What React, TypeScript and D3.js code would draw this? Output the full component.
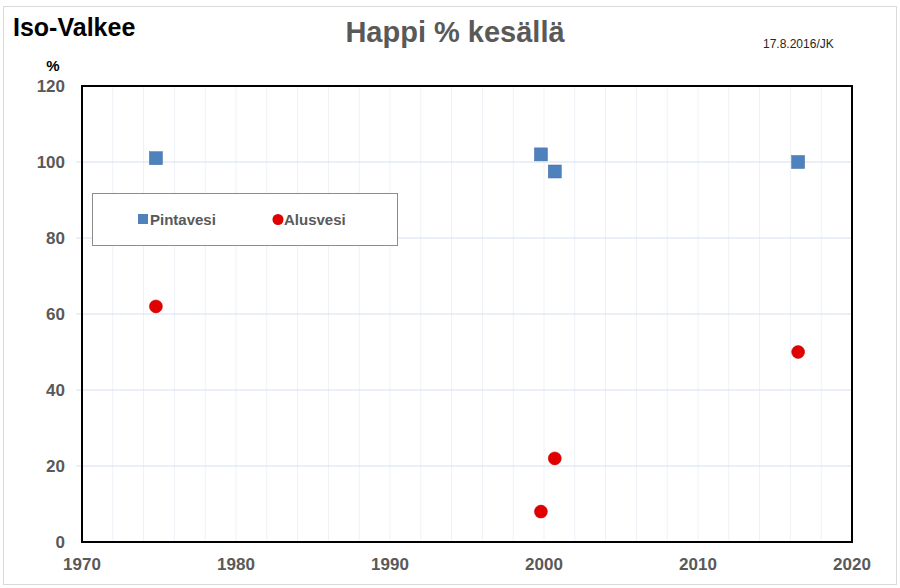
import React from "react";
import * as d3 from "d3";

const pintaYears = [1974.8, 1999.8, 2000.7, 2016.5];
const pintaValues = [101, 102, 97.5, 100];
const alusYears = [1974.8, 1999.8, 2000.7, 2016.5];
const alusValues = [62, 8, 22, 50];
const xTicks = [1970, 1980, 1990, 2000, 2010, 2020];
const yTicks = [0, 20, 40, 60, 80, 100, 120];
const xMinor = d3.range(1972, 2020, 2);

const W = 900, H = 588;
const L = 82, R = 852, T = 86, B = 542;

export default function App() {
  const x = d3.scaleLinear().domain([1970, 2020]).range([L, R]);
  const y = d3.scaleLinear().domain([0, 120]).range([B, T]);
  const font = "Arial, 'Liberation Sans', sans-serif";
  return (
    <svg width={W} height={H} style={{ position: "absolute", left: 0, top: 0 }} fontFamily={font}>
      <rect x={0} y={0} width={W} height={H} fill="#fff" />
      <rect x={3.5} y={6.5} width={893} height={578} fill="#fff" stroke="#d9d9d9" />
      {xMinor.map((v) => (
        <line key={"xm" + v} x1={x(v)} x2={x(v)} y1={T} y2={B} stroke="#edf1f7" strokeWidth={1} />
      ))}
      {yTicks.slice(1, -1).map((v) => (
        <line key={"yg" + v} x1={L - 6} x2={R} y1={y(v)} y2={y(v)} stroke="#d6e0ee" strokeWidth={1} />
      ))}
      <rect x={L} y={T} width={R - L} height={B - T} fill="none" stroke="#000" strokeWidth={2} />
      {yTicks.map((v) => (
        <text key={"yt" + v} x={L - 17} y={y(v) + 6} textAnchor="end" fontSize={17} fontWeight="bold" fill="#595959">{v}</text>
      ))}
      {xTicks.map((v) => (
        <text key={"xt" + v} x={x(v)} y={B + 28} textAnchor="middle" fontSize={17} fontWeight="bold" fill="#595959">{v}</text>
      ))}
      <text x={53} y={71} textAnchor="middle" fontSize={15} fontWeight="bold" fill="#000">%</text>
      <text x={13} y={36} fontSize={25} fontWeight="bold" fill="#000">Iso-Valkee</text>
      <text x={455} y={42} textAnchor="middle" fontSize={29} fontWeight="bold" fill="#595959">Happi % kesällä</text>
      <text x={763} y={48} fontSize={12} fill="#262626">17.8.2016/JK</text>
      {pintaYears.map((yr, i) => (
        <rect key={"p" + i} x={x(yr) - 6.5} y={y(pintaValues[i]) - 6.5} width={13} height={13} fill="#4f81bd" stroke="#3d6ea8" strokeWidth={0.5} />
      ))}
      {alusYears.map((yr, i) => (
        <circle key={"a" + i} cx={x(yr)} cy={y(alusValues[i])} r={6.5} fill="#e00000" stroke="#c00000" strokeWidth={0.5} />
      ))}
      <rect x={92.5} y={193.5} width={305} height={52} fill="#fff" stroke="#8c8c8c" strokeWidth={1} />
      <rect x={138} y={214} width={10} height={10} fill="#4f81bd" />
      <text x={150} y={225} fontSize={15} fontWeight="bold" fill="#595959">Pintavesi</text>
      <circle cx={278} cy={219.5} r={5.5} fill="#e00000" />
      <text x={284} y={225} fontSize={15} fontWeight="bold" fill="#595959">Alusvesi</text>
    </svg>
  );
}
